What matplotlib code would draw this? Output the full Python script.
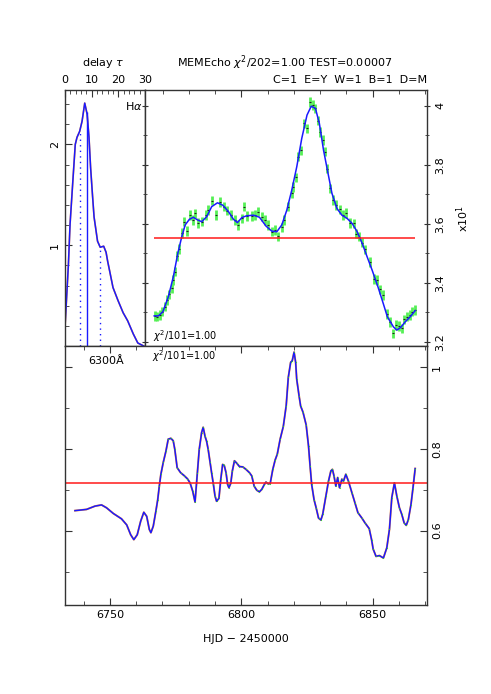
import matplotlib
matplotlib.use("Agg")
import matplotlib.pyplot as plt
import numpy as np
from matplotlib.ticker import MultipleLocator, FuncFormatter

# --- transfer function (delay panel) ---
tf_delay = [0, 1.28, 1.9, 2.95, 3.85, 4.5, 5.5, 6.4, 7.4, 8.3, 9.0, 9.6, 10.3, 10.9,
            12.2, 13.2, 14.5, 15.4, 16.0, 16.7, 18.0, 19.9, 21.8, 23.5, 25.6, 27.3, 29.5]
tf_psi = [0.185, 0.81, 1.21, 1.64, 2.0, 2.07, 2.13, 2.23, 2.41, 2.30, 2.07, 1.77, 1.50,
          1.28, 1.04, 0.98, 0.99, 0.93, 0.84, 0.75, 0.58, 0.45, 0.33, 0.25, 0.12, 0.03, 0.0]
tf_median = 8.1
tf_quartiles = [5.5, 13.2]

# --- continuum light curve (x10^1) ---
cont_model_t = [6766.8, 6768.4, 6770.1, 6772.2, 6774.1, 6775.8, 6777.3, 6778.6, 6780.2,
                6781.7, 6783.3, 6784.9, 6786.8, 6788.7, 6790.9, 6792.9, 6795.1, 6797.0,
                6798.5, 6800.2, 6802.0, 6804.6, 6806.9, 6809.4, 6811.6, 6813.5, 6815.4,
                6817.3, 6819.2, 6821.1, 6823.0, 6825.0, 6826.6, 6828.2, 6829.7, 6831.3,
                6833.0, 6834.5, 6836.4, 6838.3, 6840.3, 6842.2, 6844.1, 6846.0, 6847.9,
                6849.8, 6852.0, 6854.0, 6855.6, 6857.9, 6859.2, 6860.7, 6862.4, 6864.3,
                6866.2]
cont_model = [3.288, 3.288, 3.302, 3.353, 3.421, 3.500, 3.556, 3.596, 3.615,
              3.622, 3.613, 3.607, 3.624, 3.658, 3.671, 3.663, 3.641, 3.615,
              3.604, 3.621, 3.627, 3.629, 3.622, 3.592, 3.575, 3.573, 3.596,
              3.646, 3.714, 3.793, 3.889, 3.968, 3.998, 3.991, 3.940, 3.849,
              3.771, 3.703, 3.652, 3.629, 3.618, 3.601, 3.573, 3.534, 3.488,
              3.443, 3.387, 3.331, 3.285, 3.251, 3.240, 3.249, 3.268, 3.285,
              3.306]
cont_t = [6767.1, 6768.0, 6769.0, 6769.9, 6770.9, 6771.8, 6772.6, 6773.5, 6774.1, 6774.7,
          6775.6, 6776.4, 6777.3, 6778.3, 6779.2, 6780.5, 6781.4, 6782.3, 6783.4, 6784.9,
          6786.4, 6787.4, 6788.7, 6790.4, 6791.9, 6793.2, 6794.7, 6796.0, 6797.6, 6798.9,
          6800.2, 6801.0, 6802.3, 6804.0, 6805.2, 6806.5, 6807.8, 6809.0, 6810.3, 6811.6,
          6812.9, 6813.9, 6815.4, 6816.4, 6817.9, 6819.2, 6819.8, 6820.9, 6821.7, 6822.6,
          6823.9, 6825.0, 6826.0, 6827.2, 6828.2, 6829.1, 6830.1, 6831.1, 6832.0, 6832.6,
          6833.9, 6834.9, 6836.2, 6837.5, 6838.8, 6839.9, 6841.3, 6842.8, 6843.8, 6844.7,
          6846.0, 6847.2, 6848.9, 6850.4, 6851.7, 6852.9, 6854.1, 6855.5, 6856.7, 6857.7,
          6859.0, 6859.9, 6861.0, 6862.1, 6863.1, 6864.1, 6865.0, 6866.0]
cont_flux = [3.288, 3.285, 3.291, 3.302, 3.319, 3.342, 3.361, 3.381, 3.409, 3.438,
             3.491, 3.514, 3.568, 3.607, 3.575, 3.630, 3.613, 3.635, 3.602, 3.607,
             3.630, 3.646, 3.678, 3.630, 3.674, 3.658, 3.644, 3.630, 3.613, 3.596,
             3.618, 3.658, 3.626, 3.626, 3.630, 3.641, 3.624, 3.613, 3.596, 3.573,
             3.579, 3.557, 3.588, 3.613, 3.658, 3.703, 3.725, 3.757, 3.827, 3.849,
             3.940, 3.923, 4.013, 4.002, 3.991, 3.949, 3.911, 3.883, 3.844, 3.787,
             3.720, 3.680, 3.663, 3.649, 3.630, 3.637, 3.603, 3.601, 3.567, 3.556,
             3.536, 3.513, 3.471, 3.413, 3.409, 3.378, 3.359, 3.294, 3.268, 3.229,
             3.257, 3.254, 3.246, 3.276, 3.285, 3.291, 3.302, 3.308]
cont_err = 0.016
cont_mean = 3.552

# --- H-alpha (6300A) light curve ---
line_t = [6736.7, 6741.1, 6744.3, 6746.8, 6748.7, 6751.3, 6754.4, 6756.4, 6757.9, 6759.1,
          6760.4, 6761.7, 6762.9, 6764.0, 6765.0, 6765.6, 6766.5, 6767.5, 6768.2, 6768.8,
          6769.4, 6770.3, 6771.3, 6772.2, 6773.2, 6774.1, 6774.7, 6775.6, 6776.9, 6778.2,
          6779.5, 6780.5, 6781.5, 6782.4, 6783.3, 6784.0, 6784.9, 6785.5, 6786.2, 6786.8,
          6787.4, 6788.1, 6788.7, 6789.4, 6790.0, 6790.6, 6791.5, 6792.2, 6792.9, 6793.5,
          6794.2, 6794.8, 6795.3, 6796.0, 6796.6, 6797.4, 6798.3, 6799.3, 6800.6, 6801.8,
          6803.1, 6804.0, 6804.9, 6805.9, 6806.9, 6807.8, 6808.7, 6809.4, 6810.1, 6811.0,
          6812.0, 6812.9, 6813.7, 6814.8, 6816.0, 6817.1, 6817.9, 6818.8, 6819.4, 6820.1,
          6820.7, 6821.1, 6822.0, 6822.6, 6823.5, 6824.7, 6825.6, 6826.2, 6826.8, 6827.7,
          6828.5, 6829.4, 6830.3, 6831.0, 6832.2, 6833.2, 6834.1, 6834.7, 6835.3, 6836.0,
          6836.7, 6837.4, 6838.3, 6838.9, 6839.8, 6840.8, 6842.1, 6843.3, 6844.4, 6845.9,
          6847.1, 6848.7, 6849.6, 6850.2, 6851.3, 6852.6, 6854.1, 6855.4, 6856.4, 6857.3,
          6858.3, 6859.2, 6860.2, 6861.1, 6862.0, 6862.8, 6863.6, 6864.6, 6865.3, 6866.2]
line_flux = [0.649, 0.652, 0.660, 0.663, 0.656, 0.642, 0.629, 0.614, 0.590, 0.578,
             0.590, 0.623, 0.645, 0.635, 0.603, 0.595, 0.611, 0.648, 0.676, 0.709,
             0.738, 0.767, 0.794, 0.824, 0.826, 0.820, 0.799, 0.754, 0.742, 0.735,
             0.727, 0.717, 0.697, 0.670, 0.742, 0.799, 0.840, 0.853, 0.831, 0.819,
             0.799, 0.768, 0.742, 0.713, 0.685, 0.672, 0.679, 0.726, 0.762, 0.760,
             0.742, 0.713, 0.705, 0.716, 0.746, 0.771, 0.765, 0.757, 0.756, 0.750,
             0.742, 0.734, 0.709, 0.699, 0.695, 0.701, 0.712, 0.719, 0.715, 0.715,
             0.750, 0.773, 0.787, 0.824, 0.855, 0.906, 0.975, 1.012, 1.016, 1.037,
             1.012, 0.971, 0.930, 0.905, 0.890, 0.859, 0.807, 0.758, 0.713, 0.676,
             0.656, 0.631, 0.626, 0.640, 0.685, 0.721, 0.746, 0.750, 0.734, 0.709,
             0.730, 0.705, 0.726, 0.721, 0.738, 0.721, 0.693, 0.668, 0.644, 0.631,
             0.619, 0.605, 0.578, 0.555, 0.537, 0.539, 0.533, 0.558, 0.603, 0.681,
             0.717, 0.685, 0.656, 0.640, 0.619, 0.613, 0.627, 0.664, 0.701, 0.752]
line_mean = 0.716
line_data_start = 6767.0

BLUE = "#1a1aff"
RED = "#ff1a1a"
GREEN = "#55f055"
ORANGE = "#ff9933"
FRAME = "#333333"

W, H = 491, 694
fig = plt.figure(figsize=(W / 100, H / 100), dpi=100)
plt.rcParams["font.size"] = 8


def px(x0, y0, x1, y1):
    return [x0 / W, 1 - y1 / H, (x1 - x0) / W, (y1 - y0) / H]


fmt = FuncFormatter(lambda v, p: f"{v:g}")


def style(ax):
    for s in ax.spines.values():
        s.set_color(FRAME)
        s.set_linewidth(1.0)
    ax.tick_params(which="both", direction="in", color=FRAME, labelsize=8)
    ax.tick_params(which="major", length=5)
    ax.tick_params(which="minor", length=3)


def rotate_ylabels(ax):
    for lab in ax.get_yticklabels():
        lab.set_rotation(90)
        lab.set_va("center")


# delay panel
axd = fig.add_axes(px(65, 90, 145, 346))
style(axd)
axd.plot(tf_delay, tf_psi, color=ORANGE, lw=1.2)
axd.plot(tf_delay, tf_psi, color=BLUE, lw=1.1)
axd.vlines(tf_median, 0, np.interp(tf_median, tf_delay, tf_psi), color=BLUE, lw=1.0)
for q in tf_quartiles:
    axd.vlines(q, 0, np.interp(q, tf_delay, tf_psi), color=BLUE, lw=1.0, linestyles=(0, (1, 3)))
axd.set_xlim(0, 30)
axd.set_ylim(0, 2.54)
axd.xaxis.set_major_locator(MultipleLocator(10))
axd.xaxis.set_minor_locator(MultipleLocator(2))
axd.yaxis.set_major_locator(MultipleLocator(1))
axd.yaxis.set_minor_locator(MultipleLocator(0.2))
axd.xaxis.set_major_formatter(fmt)
axd.yaxis.set_major_formatter(fmt)
axd.tick_params(axis="x", bottom=False, top=True, labelbottom=False, labeltop=True, which="both")
axd.tick_params(axis="y", left=True, right=False, which="both")
axd.set_yticks([1, 2])
rotate_ylabels(axd)
axd.text(0.97, 0.96, r"H$\alpha$", transform=axd.transAxes, ha="right", va="top")

# continuum panel
axc = fig.add_axes(px(145, 90, 427, 346))
style(axc)
axc.errorbar(cont_t, cont_flux, yerr=cont_err, fmt="none", ecolor=GREEN, elinewidth=2.0)
axc.plot(cont_t, cont_flux, ls="none", marker="_", ms=1.6, color="#222222", mew=0.8)
axc.plot(cont_model_t, cont_model, color=BLUE, lw=1.1)
axc.hlines(cont_mean, cont_t[0] - 0.3, cont_t[-1], color=RED, lw=1.1)
axc.set_xlim(6763.3, 6870.7)
axc.set_ylim(3.186, 4.053)
axc.xaxis.set_major_locator(MultipleLocator(50))
axc.xaxis.set_minor_locator(MultipleLocator(10))
axc.yaxis.set_major_locator(MultipleLocator(0.2))
axc.yaxis.set_minor_locator(MultipleLocator(0.1))
axc.yaxis.set_major_formatter(fmt)
axc.tick_params(axis="x", bottom=False, top=True, labelbottom=False, which="both")
axc.tick_params(axis="y", left=True, right=True, labelleft=False, labelright=True,
                direction="inout", which="both")
rotate_ylabels(axc)
axc.text(0.03, 0.008, r"$\chi^2$/101=1.00", transform=axc.transAxes, ha="left", va="bottom", fontsize=7)

# line panel
axl = fig.add_axes(px(65, 346, 427, 605))
style(axl)
axl.plot(line_t, line_flux, color=ORANGE, lw=1.4)
axl.plot(line_t, line_flux, color=BLUE, lw=1.1)
obs_t = [t for t in line_t if t >= line_data_start]
obs_f = [f for t, f in zip(line_t, line_flux) if t >= line_data_start]
axl.plot(obs_t, obs_f, ls="none", marker="s", ms=0.8, mew=0, color="#22dd22", alpha=0.8)
axl.axhline(line_mean, color=RED, lw=1.1)
axl.set_xlim(6732.9, 6870.7)
axl.set_ylim(0.418, 1.052)
axl.xaxis.set_major_locator(MultipleLocator(50))
axl.xaxis.set_minor_locator(MultipleLocator(10))
axl.yaxis.set_major_locator(MultipleLocator(0.2))
axl.yaxis.set_minor_locator(MultipleLocator(0.1))
axl.xaxis.set_major_formatter(fmt)
axl.yaxis.set_major_formatter(fmt)
axl.tick_params(axis="x", bottom=True, top=True, which="both")
axl.tick_params(axis="y", left=True, right=True, labelleft=False, labelright=True, which="both")
rotate_ylabels(axl)
axl.set_xlabel("HJD \u2212 2450000", labelpad=10)
axl.text(6748.5, 1.015, "6300\u00c5", ha="center", va="center")
axl.text(6766.0, 1.027, r"$\chi^2$/101=1.00", ha="left", va="center", fontsize=7)

# header texts
fig.text(103 / W, 1 - 63 / H, r"delay $\tau$", ha="center", va="center")
fig.text(285 / W, 1 - 63 / H, r"MEMEcho $\chi^2$/202=1.00 TEST=0.00007", ha="center", va="center")
fig.text(427 / W, 1 - 80 / H, "C=1  E=Y  W=1  B=1  D=M", ha="right", va="center")
fig.text(463 / W, 1 - 218 / H, r"x10$^1$", ha="center", va="center", rotation=90)

fig.savefig("out.png", dpi=100)
